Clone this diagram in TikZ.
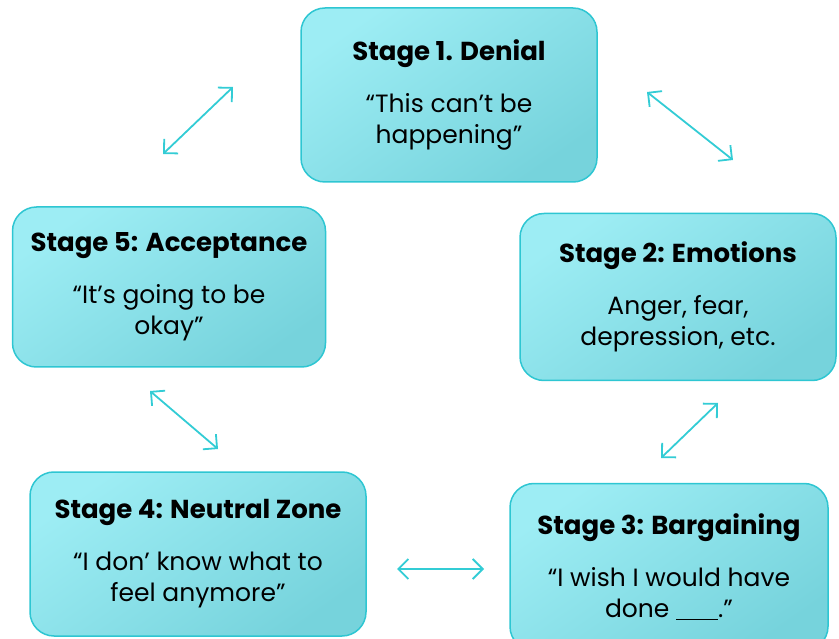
\documentclass[tikz,border=0pt]{standalone}
\usepackage{fontspec}
\setmainfont{Poppins}
\usetikzlibrary{arrows.meta}
\definecolor{stageline}{HTML}{2EC6D2}
\definecolor{stagetop}{HTML}{9DEDF4}
\definecolor{stagebot}{HTML}{76D3DC}
\definecolor{cyclearrow}{HTML}{33CCD5}
\tikzset{
  stagebox/.style={draw=stageline, line width=1.5pt, rounded corners=24pt,
    top color=stagetop, bottom color=stagebot, shading angle=35,
    align=center, inner sep=0pt, font=\fontsize{25}{31}\selectfont},
  cyclelink/.style={draw=cyclearrow, line width=1.8pt,
    {Straight Barb[length=10pt,width=20pt]}-{Straight Barb[length=10pt,width=20pt]}}
}
\newcommand{\stagetext}[2]{{\fontsize{26}{31}\selectfont\bfseries #1}\\[21pt]#2}

\begin{document}
\begin{tikzpicture}[x=1pt, y=-1pt]
    \useasboundingbox (0,0) rectangle (839,639);

    \node[stagebox, minimum width=296pt, minimum height=174pt] (denial) at (449,95)
        {\stagetext{Stage 1. Denial}{“This can’t be\\happening”}};
    \node[stagebox, minimum width=316pt, minimum height=167pt] (emotions) at (678,297)
        {\stagetext{Stage 2: Emotions}{Anger, fear,\\depression, etc.}};
    \node[stagebox, minimum width=318pt, minimum height=167pt] (bargain) at (669,567)
        {\stagetext{Stage 3: Bargaining}{“I wish I would have\\done \rule[-3pt]{42pt}{1.6pt}.”}};
    \node[stagebox, minimum width=336pt, minimum height=164pt] (neutral) at (198,554)
        {\stagetext{Stage 4: Neutral Zone}{“I don’ know what to\\feel anymore”}};
    \node[stagebox, minimum width=313pt, minimum height=160pt] (accept) at (169,287)
        {\stagetext{Stage 5: Acceptance}{“It’s going to be\\okay”}};

    % arrow ends
    \path (163,154) coordinate (A1);
    \path (233,87)  coordinate (A2);
    \path (647,92)  coordinate (B1);
    \path (733,160) coordinate (B2);
    \path (718,403) coordinate (C1);
    \path (661,458) coordinate (C2);
    \path (484,569) coordinate (D1);
    \path (397,569) coordinate (D2);
    \path (218,449) coordinate (E1);
    \path (150,391) coordinate (E2);

    \draw[cyclelink] (A1) -- (A2);
    \draw[cyclelink] (B1) -- (B2);
    \draw[cyclelink] (C1) -- (C2);
    \draw[cyclelink] (D1) -- (D2);
    \draw[cyclelink] (E1) -- (E2);
\end{tikzpicture}
\end{document}
